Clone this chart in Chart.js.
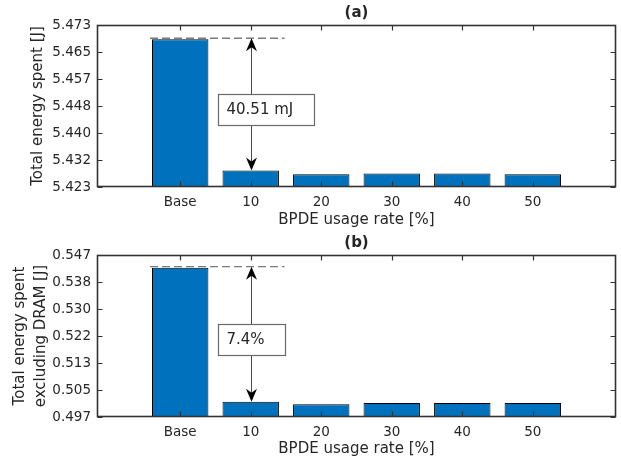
<!DOCTYPE html>
<html>
<head>
<meta charset="utf-8">
<script src="https://cdn.jsdelivr.net/npm/chart.js@4.4.1/dist/chart.umd.min.js"></script>
<style>
  body { margin: 0; background: #fff; }
  canvas { display: block; }
</style>
</head>
<body>
<canvas id="chartA" width="621" height="230"></canvas>
<canvas id="chartB" width="621" height="229"></canvas>
<script>
const categories = ['Base', '10', '20', '30', '40', '50'];

const totalEnergy = [5.4690, 5.4285, 5.4273, 5.4276, 5.4276, 5.4273];
const energyNoDram = [0.5429, 0.5015, 0.5007, 0.5011, 0.5011, 0.5011];

const ticksA = ['5.423', '5.432', '5.440', '5.448', '5.457', '5.465', '5.473'];
const ticksB = ['0.497', '0.505', '0.513', '0.522', '0.530', '0.538', '0.547'];

const rangeA = [5.4234, 5.4734];
const rangeB = [0.4968, 0.5468];

const noteA = '40.51 mJ';
const noteB = '7.4%';

const AXIS_COLOR = '#262626';
const FONT = 'DejaVu Sans';

// frame, inward ticks and the dashed line / double arrow / text box
const matlabAxes = {
  id: 'matlabAxes',
  afterDraw(chart, args, opts) {
    const { ctx, chartArea: a, scales } = chart;
    const xs = scales.x;
    const ys = scales.y;
    const L = Math.round(a.left) + 0.5, R = Math.round(a.right) - 0.5;
    const T = Math.round(a.top) + 0.5, B = Math.round(a.bottom) - 0.5;
    ctx.save();

    ctx.strokeStyle = '#333333';
    ctx.lineWidth = 1.6;
    ctx.strokeRect(L, T, R - L, B - T);

    ctx.lineWidth = 1.2;
    ctx.beginPath();
    ys.ticks.forEach(t => {
      const y = Math.round(ys.getPixelForValue(t.value)) + 0.5;
      ctx.moveTo(L, y); ctx.lineTo(L + 5, y);
      ctx.moveTo(R, y); ctx.lineTo(R - 5, y);
    });
    xs.ticks.forEach(t => {
      const x = Math.round(xs.getPixelForValue(t.value)) + 0.5;
      ctx.moveTo(x, B); ctx.lineTo(x, B - 5);
      ctx.moveTo(x, T); ctx.lineTo(x, T + 5);
    });
    ctx.stroke();

    const bars = chart.getDatasetMeta(0).data;
    const base = bars[0];
    const next = bars[1];
    const yTop = base.y - 1;
    const yBot = next.y;
    const ax = Math.round(next.x) + 0.5;

    // dashed reference line
    ctx.strokeStyle = '#7a7a7a';
    ctx.lineWidth = 1.3;
    ctx.setLineDash([8, 4]);
    ctx.beginPath();
    ctx.moveTo(base.x - base.width / 2 - 2, yTop);
    ctx.lineTo(ax + 33, yTop);
    ctx.stroke();
    ctx.setLineDash([]);

    // arrow shaft
    ctx.strokeStyle = '#4a4a4a';
    ctx.lineWidth = 1;
    ctx.beginPath();
    ctx.moveTo(ax, yTop + 8);
    ctx.lineTo(ax, yBot - 8);
    ctx.stroke();

    // arrow heads
    ctx.fillStyle = '#000';
    ctx.beginPath();
    ctx.moveTo(ax, yTop);
    ctx.lineTo(ax - 5.5, yTop + 13);
    ctx.lineTo(ax, yTop + 9);
    ctx.lineTo(ax + 5.5, yTop + 13);
    ctx.closePath();
    ctx.fill();
    ctx.beginPath();
    ctx.moveTo(ax, yBot);
    ctx.lineTo(ax - 5.5, yBot - 13);
    ctx.lineTo(ax, yBot - 9);
    ctx.lineTo(ax + 5.5, yBot - 13);
    ctx.closePath();
    ctx.fill();

    // text box
    ctx.font = '15px ' + FONT;
    const tw = ctx.measureText(opts.text).width;
    const bw = Math.round(tw + 29);
    const bh = 31;
    const bx = Math.round(ax - 34) + 0.5;
    const by = Math.round((yTop + yBot) / 2 + 5.5 - bh / 2) + 0.5;
    ctx.fillStyle = '#fff';
    ctx.fillRect(bx, by, bw, bh);
    ctx.strokeStyle = '#6a6a6a';
    ctx.lineWidth = 1.2;
    ctx.strokeRect(bx, by, bw, bh);
    ctx.fillStyle = AXIS_COLOR;
    ctx.textBaseline = 'middle';
    ctx.textAlign = 'left';
    ctx.fillText(opts.text, bx + 8, by + bh / 2);

    ctx.restore();
  }
};

function buildChart(id, values, range, tickLabels, title, yTitle, yTitlePad, yLineHeight, xHeight, note) {
  const ctx = document.getElementById(id).getContext('2d');
  const step = (range[1] - range[0]) / (tickLabels.length - 1);

  return new Chart(ctx, {
    type: 'bar',
    data: {
      datasets: [{
        data: categories.map((c, i) => ({ x: i, y: values[i] })),
        backgroundColor: '#0072BD',
        borderColor: '#000',
        borderWidth: 1,
        borderSkipped: false,
        barPercentage: 0.8,
        categoryPercentage: 1.0
      }]
    },
    options: {
      responsive: false,
      animation: false,
      devicePixelRatio: 1,
      layout: { padding: { left: 0, right: 5, top: 0, bottom: 0 } },
      plugins: {
        legend: { display: false },
        tooltip: { enabled: false },
        title: {
          display: true,
          text: title,
          fullSize: false,
          color: AXIS_COLOR,
          font: { family: FONT, size: 15, weight: 'bold', lineHeight: 1.2 },
          padding: { top: 4, bottom: 3 }
        },
        matlabAxes: { text: note }
      },
      scales: {
        x: {
          type: 'linear',
          offset: false,
          min: -1.18,
          max: 6.18,
          grid: { display: false, drawTicks: false },
          border: { display: false },
          afterBuildTicks: s => { s.ticks = categories.map((c, i) => ({ value: i })); },
          afterFit: s => { s.height = xHeight; },
          ticks: {
            color: AXIS_COLOR,
            padding: 7,
            maxRotation: 0,
            font: { family: FONT, size: 13.5 },
            callback: v => categories[v]
          },
          title: {
            display: true,
            text: 'BPDE usage rate [%]',
            color: AXIS_COLOR,
            font: { family: FONT, size: 15 },
            padding: { top: 0, bottom: 1 }
          }
        },
        y: {
          min: range[0],
          max: range[1],
          grid: { display: false, drawTicks: false },
          border: { display: false },
          afterBuildTicks: s => { s.ticks = tickLabels.map((t, i) => ({ value: range[0] + i * step })); },
          afterFit: s => { s.width = 97; },
          ticks: {
            color: AXIS_COLOR,
            padding: 6,
            font: { family: FONT, size: 13.5 },
            callback: (v, i) => tickLabels[i]
          },
          title: {
            display: true,
            text: yTitle,
            color: AXIS_COLOR,
            font: { family: FONT, size: 15, lineHeight: yLineHeight },
            padding: { top: yTitlePad, bottom: 0 }
          }
        }
      }
    },
    plugins: [matlabAxes]
  });
}

document.addEventListener('DOMContentLoaded', function () {
  buildChart('chartA', totalEnergy, rangeA, ticksA, '(a)',
    'Total energy spent [J]', 29, 1.2, 43, noteA);
  buildChart('chartB', energyNoDram, rangeB, ticksB, '(b)',
    ['Total energy spent', 'excluding DRAM [J]'], 9.5, 1.4, 42, noteB);
});
</script>
</body>
</html>
